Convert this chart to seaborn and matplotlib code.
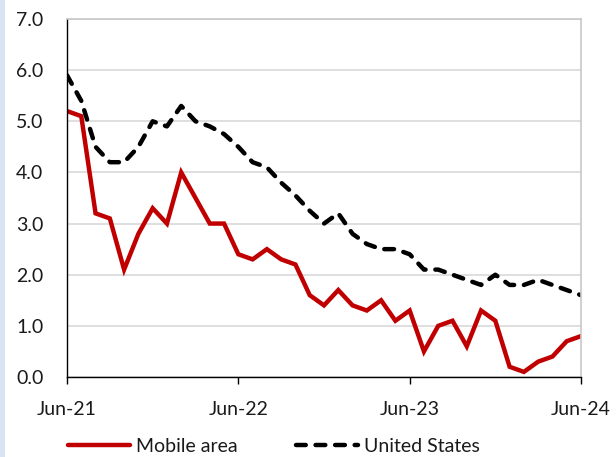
import matplotlib
matplotlib.use("Agg")
import matplotlib.pyplot as plt
import seaborn as sns
import pandas as pd
from matplotlib.patches import Rectangle

# Monthly series, Jun-21 through Jun-24
months = list(range(37))
mobile_area = [5.2, 5.1, 3.2, 3.1, 2.1, 2.8, 3.3, 3.0, 4.0, 3.5, 3.0, 3.0,
               2.4, 2.3, 2.5, 2.3, 2.2, 1.6, 1.4, 1.7, 1.4, 1.3, 1.5, 1.1,
               1.3, 0.5, 1.0, 1.1, 0.6, 1.3, 1.1, 0.2, 0.1, 0.3, 0.4, 0.7,
               0.8]
united_states = [5.9, 5.4, 4.5, 4.2, 4.2, 4.5, 5.0, 4.9, 5.3, 5.0, 4.9, 4.75,
                 4.5, 4.2, 4.1, 3.8, 3.55, 3.25, 3.0, 3.2, 2.8, 2.6, 2.5, 2.5,
                 2.4, 2.1, 2.1, 2.0, 1.9, 1.8, 2.0, 1.8, 1.8, 1.9, 1.8, 1.7,
                 1.6]
tick_pos = [0, 12, 24, 36]
tick_labels = ["Jun-21", "Jun-22", "Jun-23", "Jun-24"]
y_ticks = [0, 1, 2, 3, 4, 5, 6, 7]

df = pd.DataFrame({
    "month": months * 2,
    "value": mobile_area + united_states,
    "series": ["Mobile area"] * len(months) + ["United States"] * len(months),
})

sns.set_theme(style="white")
plt.rcParams["font.family"] = ["Lato", "DejaVu Sans"]
text_color = "#1a1a1a"
font_size = 14

fig = plt.figure(figsize=(6.16, 4.57), dpi=100)
ax = fig.add_axes([67 / 616, 1 - 377 / 457, 514 / 616, 358 / 457])

# thin light-blue strip along the left edge of the canvas
fig.patches.append(Rectangle((0, 0), 5 / 616, 1, transform=fig.transFigure,
                             facecolor="#dae3f3", edgecolor="none", zorder=0))

sns.lineplot(data=df, x="month", y="value", hue="series", style="series",
             palette={"Mobile area": "#c00000", "United States": "black"},
             dashes={"Mobile area": "", "United States": (2.2, 2.2)},
             linewidth=3.2, ax=ax, legend=False)
for line in ax.get_lines():
    line.set_dash_capstyle("round")
    line.set_solid_joinstyle("miter")

ax.set_xlim(0, 36)
ax.set_ylim(0, 7)
ax.set_yticks(y_ticks)
ax.set_yticklabels([f"{v:.1f}" for v in y_ticks])
ax.set_xticks(tick_pos)
ax.set_xticklabels(tick_labels)
ax.set_xlabel("")
ax.set_ylabel("")

ax.grid(axis="y", color="#d9d9d9", linewidth=1.2)
ax.grid(axis="x", visible=False)
ax.set_axisbelow(True)

for side in ["top", "right"]:
    ax.spines[side].set_color("#c8c8c8")
    ax.spines[side].set_linewidth(1.2)
for side in ["left", "bottom"]:
    ax.spines[side].set_color("black")
    ax.spines[side].set_linewidth(1.0)

ax.tick_params(axis="x", direction="out", length=5, width=1, color="black",
               pad=12, labelsize=font_size, labelcolor=text_color, bottom=True)
ax.tick_params(axis="y", length=0, pad=17, labelsize=font_size,
               labelcolor=text_color)

handles = [
    plt.Line2D([], [], color="#c00000", linewidth=3.2),
    plt.Line2D([], [], color="black", linewidth=3.2, linestyle=(0, (2.2, 2.2)),
               dash_capstyle="round"),
]
fig.legend(handles, ["Mobile area", "United States"], loc="center",
           bbox_to_anchor=(274 / 616, 1 - 446 / 457), ncol=2, frameon=False,
           fontsize=font_size, handlelength=3.2, handletextpad=0.3,
           columnspacing=3.0, labelcolor=text_color)

fig.savefig("out.png", dpi=100, facecolor="white")
